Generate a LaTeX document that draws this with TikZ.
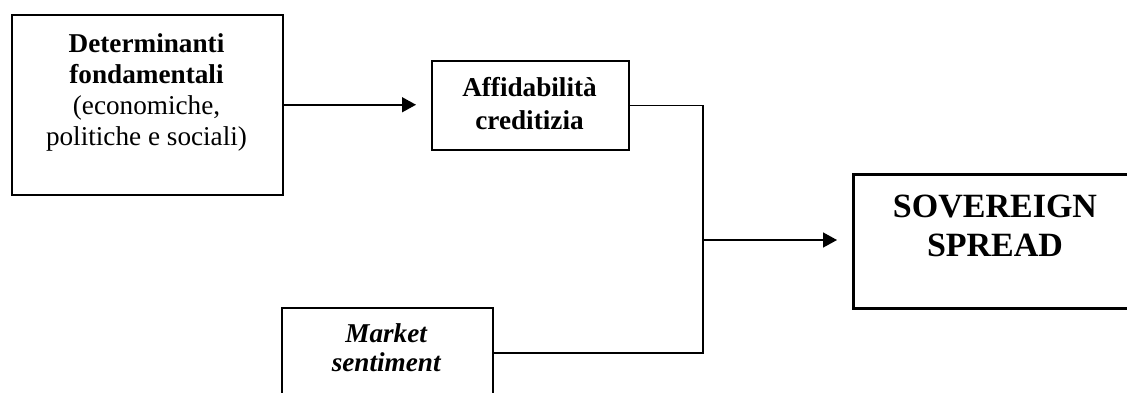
\documentclass[tikz,border=0pt]{standalone}
\usepackage{fontspec}
\setmainfont{Liberation Serif}
\usetikzlibrary{arrows.meta}
\begin{document}
\begin{tikzpicture}[x=0.5pt,y=-0.5pt,
  box/.style={draw,line width=0.75pt,inner sep=0,anchor=north west},
  txt/.style={inner sep=0,anchor=north,align=center,font=\fontsize{13.6}{15.5}\selectfont},
  conn/.style={line width=0.75pt},
  arr/.style={conn,-{Triangle[length=7pt,width=7.5pt]},shorten >=7.5pt}]
\clip (0,0) rectangle (1127,392);
\node[box,minimum width=135.5pt,minimum height=90pt] (det) at (11,14) {};
\node[box,minimum width=98.5pt,minimum height=44.5pt] (aff) at (431,60) {};
\node[box,minimum width=105.5pt,minimum height=45pt] (mkt) at (281,307) {};
\node[box,line width=1.6pt,minimum width=143pt,minimum height=67pt] (sov) at (852,173) {};
\coordinate (j) at (703,240);
\draw[arr] (det.east) -- (det.east -| aff.west);
\draw[conn] (aff.east) -| (j) |- (mkt.east);
\draw[arr] (j) -- (j -| sov.west);
\node[txt] (dett) at (146.5,33) {\textbf{Determinanti}\\\textbf{fondamentali}\\(economiche,\\politiche e sociali)};
\node[txt,font=\fontsize{13.6}{16.3}\selectfont] (afft) at (529.5,77) {\textbf{Affidabilità}\\\textbf{creditizia}};
\node[txt,font=\fontsize{13.6}{14.8}\selectfont] (mktt) at (386.5,323) {\textbf{\textit{Market}}\\\textbf{\textit{sentiment}}};
\node[txt,font=\fontsize{17}{19.5}\selectfont\bfseries] (sovt) at (995,195) {SOVEREIGN\\SPREAD};
\end{tikzpicture}
\end{document}
